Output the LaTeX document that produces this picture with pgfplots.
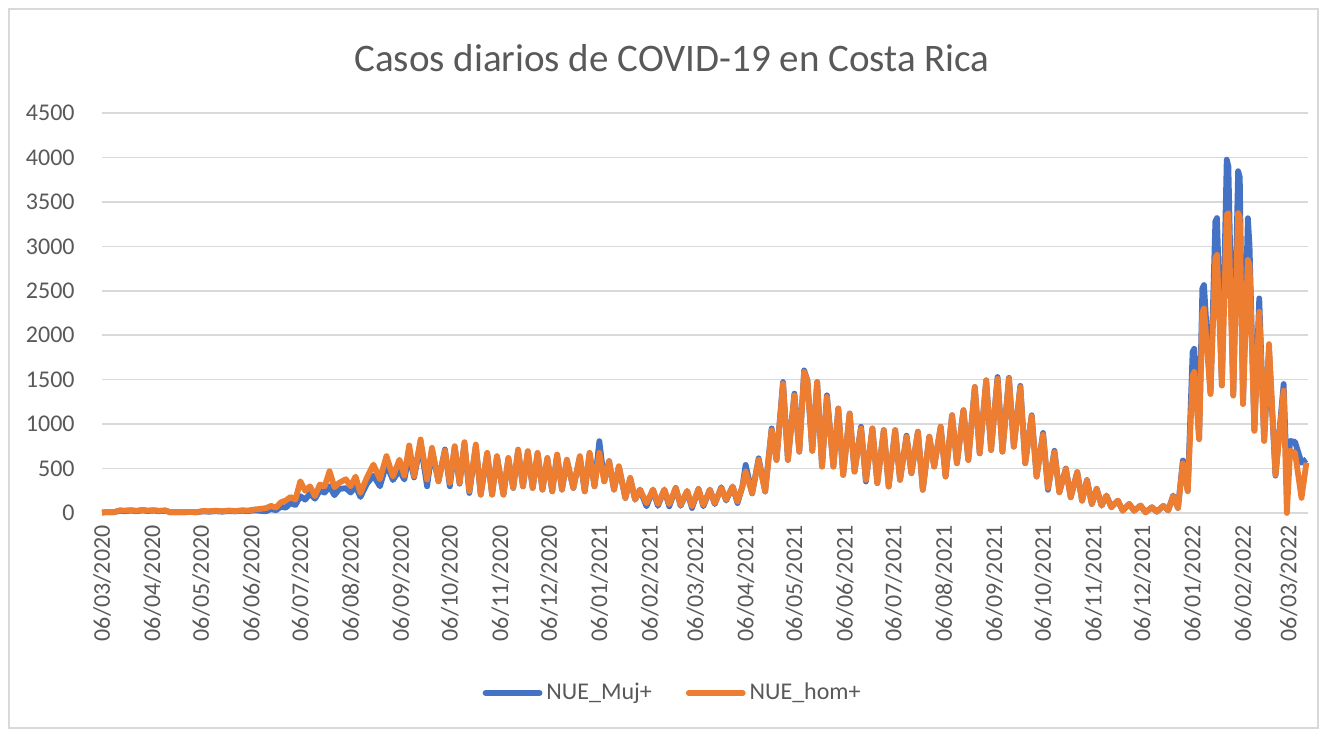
\documentclass[border=0pt]{standalone}
\usepackage{fontspec}
\setmainfont{Carlito}
\usepackage{pgfplots}
\usepackage{pgfplotstable}
\pgfplotsset{compat=1.18}
\definecolor{mujblue}{HTML}{4472C4}
\definecolor{homorange}{HTML}{ED7D31}
\definecolor{gridgray}{HTML}{D9D9D9}
\definecolor{txtgray}{HTML}{595959}

\pgfplotstableread{
day muj hom
0 5 5
3 10 10
7 8 8
11 25 30
14 20 28
18 28 32
21 20 25
25 30 35
28 22 28
32 28 32
35 20 25
39 25 30
42 8 8
46 10 10
50 8 8
54 12 12
58 8 8
62 18 22
66 15 20
70 20 25
74 15 20
78 22 28
82 18 22
86 25 30
90 22 28
94 30 40
97 25 45
101 20 55
104 45 80
107 30 60
110 70 120
113 60 140
116 110 180
119 90 150
122 190 357
125 150 250
128 220 300
131 160 190
134 250 320
137 230 300
140 300 470
143 200 290
146 270 340
150 280 380
153 230 300
156 300 410
159 180 225
163 330 400
167 420 545
171 300 380
175 550 640
179 370 410
183 480 600
186 376 420
189 650 760
192 400 414
196 780 827
200 300 376
203 700 733
207 357 357
211 714 700
214 300 338
217 740 752
220 330 338
223 780 797
226 225 244
230 750 770
233 207 207
237 670 677
240 207 207
243 630 640
247 207 207
250 610 620
253 282 282
256 700 714
259 300 300
262 690 696
265 282 282
268 670 677
271 263 263
274 610 620
277 244 244
280 650 658
283 263 263
286 590 600
290 282 282
294 630 640
297 244 244
300 670 677
303 300 300
306 808 677
309 357 357
312 583 583
315 263 263
318 520 526
322 169 169
325 390 395
328 150 150
331 263 263
335 75 110
339 263 263
342 80 100
346 260 265
349 75 100
353 282 282
356 80 90
360 244 250
363 56 75
367 270 270
370 75 90
374 263 263
377 100 110
381 290 280
384 140 150
388 298 298
391 112 130
394 298 298
396 541 466
400 220 224
404 615 597
408 242 242
412 951 932
415 597 597
419 1473 1455
422 597 597
426 1343 1324
429 690 690
432 1604 1585
434 1490 1490
437 700 700
440 1473 1473
443 522 522
446 1324 1305
450 522 522
453 1175 1175
456 429 429
460 1119 1119
463 466 466
467 970 951
470 354 373
474 951 951
477 336 336
481 932 932
484 298 298
488 932 932
491 373 373
495 870 858
498 448 448
502 914 914
505 261 261
509 858 858
512 522 522
516 970 970
519 410 410
523 1100 1100
526 560 560
530 1156 1156
533 597 597
537 1417 1417
540 671 671
544 1492 1492
547 709 709
551 1530 1510
554 690 690
558 1520 1511
561 746 746
565 1430 1417
568 560 560
572 1100 1090
575 410 410
579 900 880
582 261 280
586 700 684
589 233 233
593 500 496
596 177 177
600 459 459
603 139 139
606 370 365
609 102 102
612 271 271
615 83 83
618 196 196
621 64 64
625 139 139
628 26 26
632 102 102
635 26 26
639 83 83
642 8 8
646 64 64
649 15 15
653 80 80
656 30 30
659 196 188
662 57 57
665 590 560
668 250 245
671 1812 1540
672 1847 1587
675 840 829
677 2527 2250
678 2564 2301
682 1350 1338
685 3280 2870
686 3318 2903
689 1440 1433
692 3975 3354
693 3900 3374
696 1330 1320
699 3845 3374
700 3780 3330
702 1230 1225
705 3316 2846
706 3015 2800
709 930 924
712 2414 2264
715 816 810
718 1830 1900
722 420 430
727 1451 1376
729 377 0
731 810 700
734 800 679
738 565 170
741 603 565
}\casos

\begin{document}
\begin{tikzpicture}
\useasboundingbox (0,0) rectangle (663.5pt,365.5pt);
\fill[white] (0,0) rectangle (663.5pt,365.5pt);
\draw[gridgray, line width=0.75pt] (4.5pt,1.5pt) rectangle (659pt,361pt);
\node[text=txtgray, font=\fontsize{19.5}{23}\selectfont] at (336pt,336.5pt) {Casos diarios de COVID-19 en Costa Rica};
\begin{axis}[
  at={(51pt,109pt)}, anchor=south west,
  scale only axis, width=603pt, height=200pt,
  xmin=0, xmax=742, ymin=0, ymax=4500,
  ytick={0,500,...,4500},
  xtick={0,31,61,92,122,153,184,214,245,275,306,337,365,396,426,457,487,518,549,579,610,640,671,702,730},
  xticklabels={06/03/2020,06/04/2020,06/05/2020,06/06/2020,06/07/2020,06/08/2020,06/09/2020,06/10/2020,06/11/2020,06/12/2020,06/01/2021,06/02/2021,06/03/2021,06/04/2021,06/05/2021,06/06/2021,06/07/2021,06/08/2021,06/09/2021,06/10/2021,06/11/2021,06/12/2021,06/01/2022,06/02/2022,06/03/2022},
  ymajorgrids, grid style={gridgray, line width=0.75pt},
  axis line style={draw=none},
  major tick length=0pt,
  tick label style={text=txtgray, font=\fontsize{12}{14}\selectfont},
  /pgf/number format/assume math mode=true,
  /pgf/number format/1000 sep={},
  scaled y ticks=false,
  yticklabel style={anchor=east, inner sep=0pt, xshift=-13.5pt},
  xticklabel style={yshift=-6pt, rotate=90, anchor=east, inner sep=0pt},
  clip=false,
  legend columns=2,
  legend style={at={(0.474,-0.45)}, anchor=center, draw=none, fill=none, font=\fontsize{12}{14}\selectfont, text=txtgray, /tikz/every even column/.append style={column sep=15pt}, inner sep=0pt},
  legend cell align=left,
  legend image code/.code={\draw[#1, line cap=round] (0pt,0pt) -- (27pt,0pt);},
]
\addplot[mujblue, line width=2.9pt, line join=round] table[x=day, y=muj] {\casos};
\addplot[homorange, line width=2.9pt, line join=round] table[x=day, y=hom] {\casos};
\legend{NUE\_Muj+, NUE\_hom+}
\end{axis}
\end{tikzpicture}
\end{document}
